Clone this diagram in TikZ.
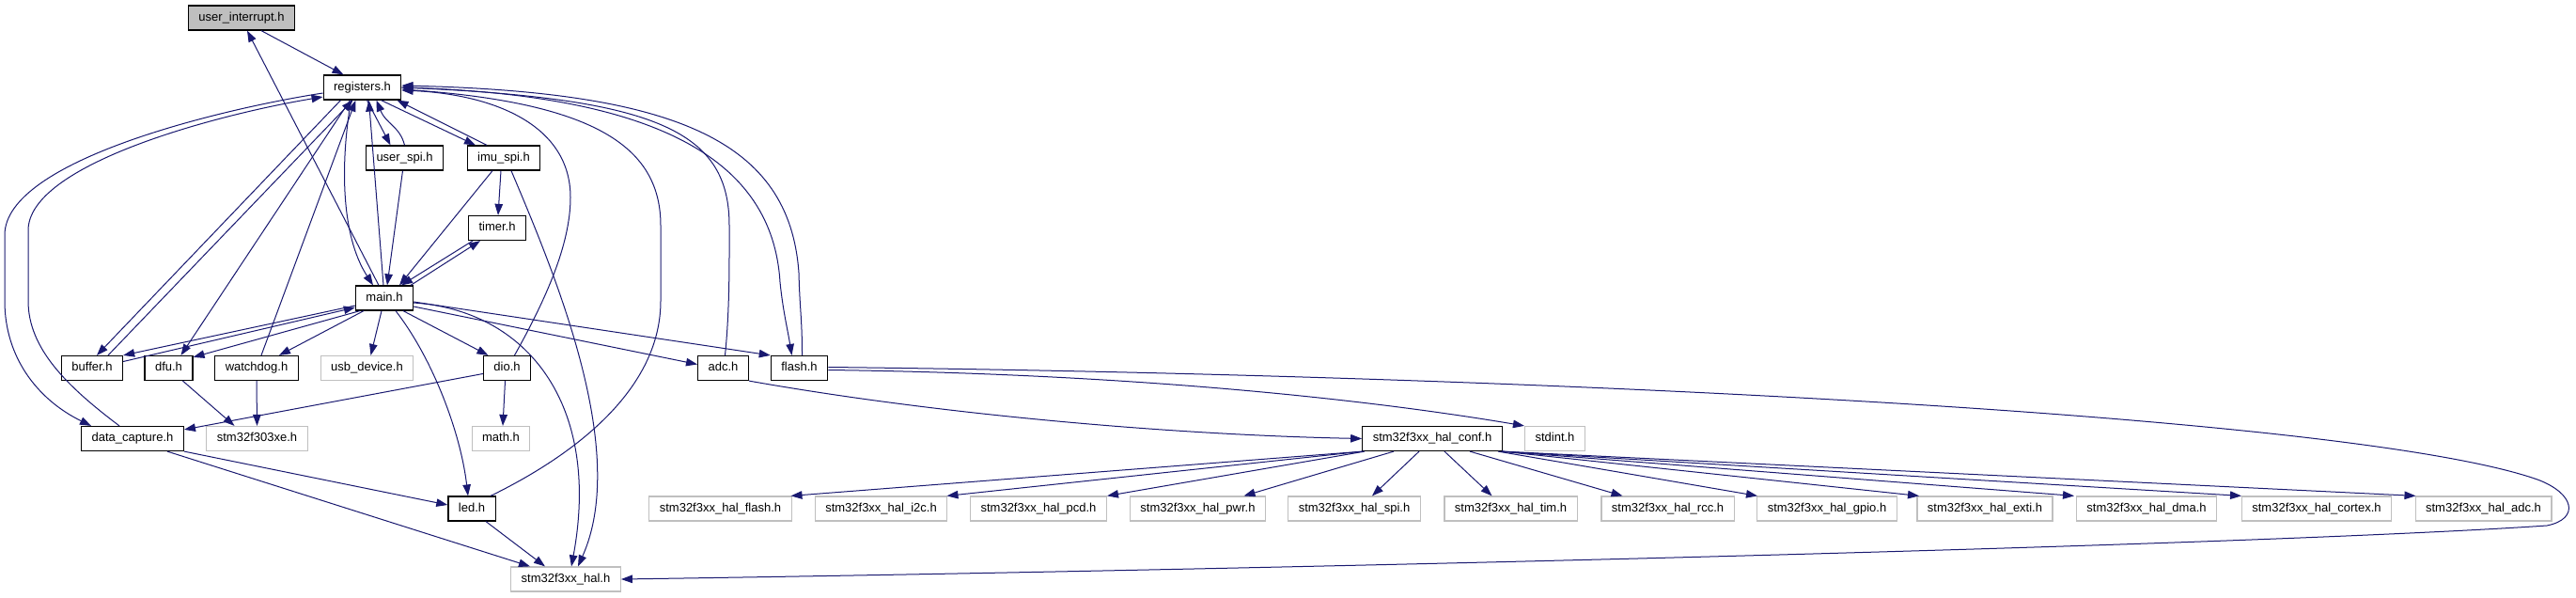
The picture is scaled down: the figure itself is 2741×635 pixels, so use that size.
\documentclass[tikz,border=0pt]{standalone}
\usepackage{fontspec}
\setmainfont{Liberation Sans}
\usetikzlibrary{arrows.meta}
\definecolor{cedge}{HTML}{191970}
\definecolor{cgrey}{HTML}{BFBFBF}
\tikzset{
  every picture/.style={line width=1pt},
  hdr/.style={draw=#1, fill=white, line width=1.2pt, inner xsep=11pt, inner ysep=0pt, minimum height=26pt, text height=9.5pt, text depth=2.7pt, font=\fontsize{13}{15}\selectfont},
  hdr/.default=black,
  dep/.style={-{Triangle[length=12pt, width=8.5pt]}, draw=cedge, line width=1pt},
}
\begin{document}
\begin{tikzpicture}[x=1pt, y=-1pt, hfile/.style={hdr=black}, sys/.style={hdr=cgrey}, self/.style={hdr=black, fill=cgrey}]
  \fill[white] (0,0) rectangle (2741,635);
  \useasboundingbox (0,0) rectangle (2741,635);
  \node[self] (uint) at (257,19) {user\_interrupt.h};
  \node[hfile] (reg) at (385.5,93) {registers.h};
  \node[hfile] (uspi) at (430.5,168) {user\_spi.h};
  \node[hfile] (imu) at (536,168) {imu\_spi.h};
  \node[hfile] (tim) at (529,242.5) {timer.h};
  \node[hfile] (main) at (409,317) {main.h};
  \node[hfile] (buf) at (98,391.5) {buffer.h};
  \node[hfile] (dfu) at (179.5,391.5) {dfu.h};
  \node[hfile] (wdg) at (273,391.5) {watchdog.h};
  \node[sys] (usb) at (390.5,391.5) {usb\_device.h};
  \node[hfile] (dio) at (539.5,391.5) {dio.h};
  \node[hfile] (adc) at (769.5,391.5) {adc.h};
  \node[hfile] (flash) at (850.5,391.5) {flash.h};
  \node[hfile] (dcap) at (141,466.5) {data\_capture.h};
  \node[sys] (f303) at (273.5,466.5) {stm32f303xe.h};
  \node[sys] (math) at (533,466.5) {math.h};
  \node[hfile] (conf) at (1524,466.5) {stm32f3xx\_hal\_conf.h};
  \node[sys] (stdint) at (1654.5,466.5) {stdint.h};
  \node[hfile] (led) at (502,541) {led.h};
  \node[sys] (hal) at (602,616) {stm32f3xx\_hal.h};
  \foreach \n/\x in {flash/766.5, i2c/937.5, pcd/1105, pwr/1274.5, spi/1441, tim/1607.5, rcc/1774.5, gpio/1944, exti/2112, dma/2284, cortex/2465, adc/2642.5}
    \node[sys] (h\n) at (\x,541) {stm32f3xx\_hal\_\n.h};

  \draw[dep] ([xshift=21]uint.south) -- ([xshift=-20]reg.north);
  \draw[dep] ([xshift=-6]main.north) -- ([xshift=6]uint.south);
  \draw[dep] ([xshift=5]reg.south) -- ([xshift=-15]uspi.north);
  \draw[dep] (uspi.north) .. controls +(-5,-20) and +(10,25) .. ([xshift=15]reg.south);
  \draw[dep] ([xshift=20]reg.south) -- ([xshift=-30]imu.north);
  \draw[dep] ([xshift=-18]imu.north) -- ([xshift=37]reg.south);
  \draw[dep] ([xshift=-3]imu.south) -- ([xshift=1]tim.north);
  \draw[dep] ([xshift=-12]imu.south) -- ([xshift=16]main.north);
  \draw[dep] ([xshift=8]imu.south) .. controls +(46,109) and +(55,-123) .. ([xshift=13]hal.north);
  \draw[dep] ([xshift=28]main.north) -- ([xshift=-18]tim.south);
  \draw[dep] ([xshift=-26]tim.south) -- ([xshift=18]main.north);
  \draw[dep] ([xshift=-2]uspi.south) -- ([xshift=3]main.north);
  \draw[dep] ([xshift=-12]reg.south) .. controls +(-11,64) and +(-35,-54) .. ([xshift=-12]main.north);
  \draw[dep] ([xshift=-1]main.north) -- ([xshift=7]reg.south);
  \draw[dep] ([xshift=-23]reg.south) -- ([xshift=5]buf.north);
  \draw[dep] ([xshift=17]buf.north) -- ([xshift=-10]reg.south);
  \draw[dep] ([xshift=-13]reg.south) -- ([xshift=13]dfu.north);
  \draw[dep] ([xshift=5]wdg.north) -- ([xshift=-7]reg.south);
  \draw[dep] ([yshift=-6]reg.west) .. controls +(-104,16) and (5,170) .. (5,250) -- (5,320) .. controls (5,380) and (40,425) .. ([xshift=-44]dcap.north);
  \draw[dep] ([xshift=-14]dcap.north) .. controls (70,410) and (30,370) .. (30,320) -- (30,245) .. controls (30,175) and (230,122) .. ([yshift=-10]reg.west);
  \draw[dep] ([yshift=-8]main.west) -- (buf.north east);
  \draw[dep] ([yshift=7]buf.east) -- ([yshift=-10]main.west);
  \draw[dep] ([xshift=-26]main.south) -- ([yshift=-2]dfu.north east);
  \draw[dep] ([xshift=-22]main.south) -- ([xshift=24]wdg.north);
  \draw[dep] ([xshift=-3]main.south) -- ([xshift=4]usb.north);
  \draw[dep] ([xshift=20]main.south) -- ([xshift=-20]dio.north);
  \draw[dep] ([xshift=12]main.south) .. controls +(39,50) and +(-8,-68) .. ([xshift=-4]led.north);
  \draw[dep] ([yshift=-5]main.east) .. controls +(120,8) and +(32,-173) .. ([xshift=6]hal.north);
  \draw[dep] ([yshift=-9]main.east) -- ([yshift=4]adc.west);
  \draw[dep] ([yshift=-4]main.east) -- (flash.north west);
  \draw[dep] ([xshift=-2]dio.south) -- ([xshift=2]math.north);
  \draw[dep] ([yshift=-6]dio.west) -- ([yshift=-4]dcap.north east);
  \draw[dep] ([xshift=8]dio.north) .. controls +(33,-59) and (607,260) .. (607,210) .. controls (607,130) and (520,100) .. ([yshift=-3]reg.east);
  \draw[dep] ([xshift=15]dfu.south) -- ([xshift=-24]f303.north);
  \draw[dep] (wdg.south) -- (f303.north);
  \draw[dep] (dcap.south east) -- ([yshift=4]led.west);
  \draw[dep] ([xshift=37]dcap.south) -- ([xshift=-38]hal.north);
  \draw[dep] ([xshift=15]led.south) -- ([xshift=-22]hal.north);
  \draw[dep] ([xshift=20]led.north) .. controls +(78,-38) and (703,420) .. (703,320) -- (703,240) .. controls (703,160) and (640,110) .. ([yshift=-2]reg.east);
  \draw[dep] ([xshift=2]adc.north) .. controls +(5,-49) and (776,280) .. (776,240) .. controls (776,140) and (700,105) .. (reg.east);
  \draw[dep] (reg.east) .. controls (700,100) and (822,170) .. (830,300) .. controls (833,330) and (838,350) .. ([xshift=-8]flash.north);
  \draw[dep] ([xshift=3]flash.north) .. controls +(0,-40) and (851,330) .. (850,290) .. controls (840,150) and (720,98) .. ([yshift=2]reg.east);
  \draw[dep] (adc.south east) .. controls +(203,36) and +(-200,-4) .. (conf.west);
  \draw[dep] ([yshift=-2]flash.east) .. controls +(319,4) and +(-172,-29) .. (stdint.north west);
  \draw[dep] ([yshift=1]flash.east) .. controls +(719,8) and (2500,440) .. (2700,510) .. controls (2740,525) and (2745,552) .. (2710,559) .. controls (2400,580) and +(739,-11) .. (hal.east);
  \foreach \sx/\tn/\tx in {-74/hflash/75, -74/hi2c/70, -72/hpcd/73, -41/hpwr/49, -14/hspi/19, 13/htim/-20, 40/hrcc/-48, 70/hgpio/-74, 74/hexti/-70, 74/hdma/-77, 74/hcortex/-80, 74/hadc/-72}
    \draw[dep] ([xshift=\sx]conf.south) -- ([xshift=\tx]\tn.north);
\end{tikzpicture}
\end{document}
